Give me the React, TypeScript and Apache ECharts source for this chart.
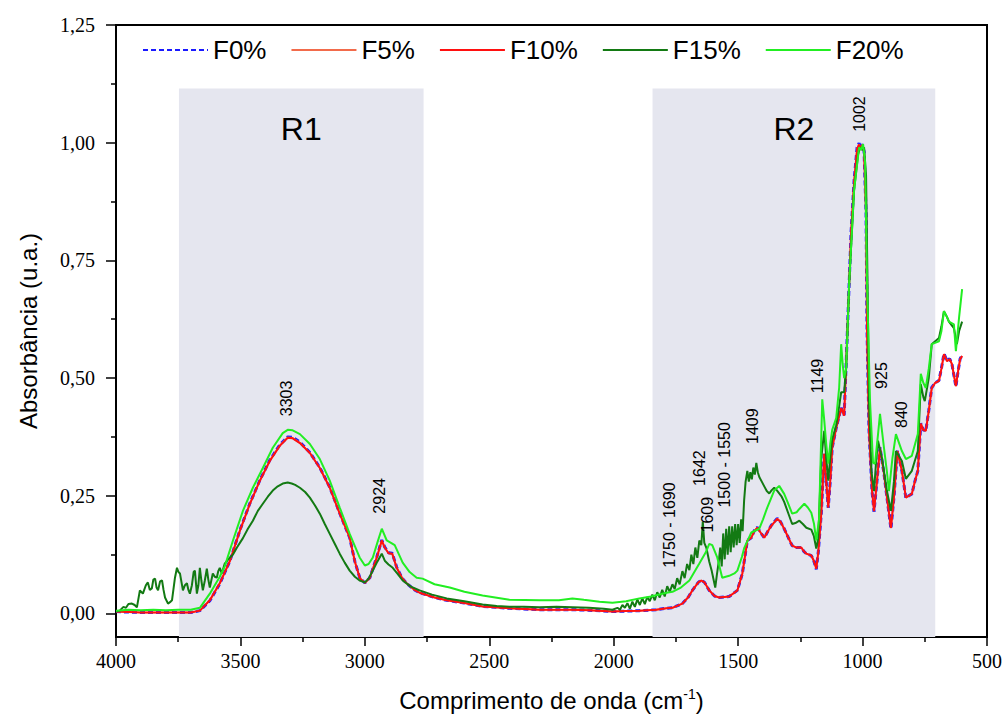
import React, { useEffect, useRef } from 'react';
import * as echarts from 'echarts';

// ---- Data ----
const seriesNames = ['F0%', 'F5%', 'F10%', 'F15%', 'F20%'];

// shared wavenumber grid for F0%, F5%, F10%
const baseWn = [
  4000, 3950, 3900, 3850, 3800, 3750, 3700, 3663, 3623, 3583, 3542, 3502, 3462, 3422, 3382, 3342, 3310, 3290,
  3261, 3221, 3181, 3141, 3101, 3061, 3040, 3020, 3000, 2980, 2952, 2932, 2920, 2905, 2890, 2872, 2850, 2832,
  2800, 2780, 2720, 2671, 2600, 2527, 2419, 2298, 2166, 2100, 2005, 1950, 1897, 1830, 1788, 1764, 1724, 1700,
  1684, 1660, 1648, 1635, 1616, 1595, 1576, 1536, 1503, 1483, 1463, 1447, 1435, 1423, 1410, 1395, 1380, 1367,
  1343, 1330, 1315, 1300, 1283, 1265, 1246, 1236, 1226, 1206, 1196, 1186, 1178, 1166, 1154, 1146, 1138, 1130,
  1122, 1106, 1086, 1074, 1066, 1046, 1034, 1022, 1014, 1008, 1002, 994, 986, 982, 974, 962, 954, 942, 930,
  914, 902, 886, 874, 860, 842, 826, 814, 802, 790, 778, 766, 756, 746, 734, 722, 708, 693, 683, 673, 661,
  650, 641, 625, 616, 608, 600
];

const f10Abs = [
  0.004, 0.003, 0.002, 0.002, 0.002, 0.002, 0.002, 0.006, 0.028, 0.064, 0.112, 0.176, 0.233, 0.282, 0.324, 0.356, 0.373, 0.372,
  0.362, 0.341, 0.309, 0.267, 0.212, 0.161, 0.110, 0.075, 0.065, 0.076, 0.119, 0.155, 0.140, 0.128, 0.127, 0.097, 0.075, 0.064,
  0.050, 0.044, 0.034, 0.028, 0.022, 0.015, 0.011, 0.008, 0.008, 0.007, 0.004, 0.005, 0.006, 0.008, 0.011, 0.012, 0.021, 0.035,
  0.049, 0.066, 0.070, 0.066, 0.049, 0.037, 0.034, 0.036, 0.049, 0.085, 0.155, 0.161, 0.175, 0.182, 0.172, 0.161, 0.175, 0.186,
  0.201, 0.195, 0.180, 0.163, 0.144, 0.140, 0.140, 0.132, 0.127, 0.123, 0.112, 0.095, 0.130, 0.212, 0.339, 0.280, 0.225, 0.280,
  0.352, 0.394, 0.436, 0.420, 0.530, 0.810, 0.917, 0.987, 0.996, 0.985, 0.995, 0.981, 0.847, 0.600, 0.388, 0.261, 0.218, 0.282, 0.352,
  0.297, 0.246, 0.182, 0.246, 0.345, 0.303, 0.246, 0.250, 0.254, 0.280, 0.303, 0.403, 0.390, 0.388, 0.430, 0.479, 0.490, 0.494, 0.520, 0.551, 0.536,
  0.540, 0.530, 0.483, 0.515, 0.540, 0.547
];

const f0Abs = [
  0.004, 0.003, 0.002, 0.002, 0.002, 0.002, 0.002, 0.006, 0.027, 0.063, 0.112, 0.177, 0.234, 0.283, 0.326, 0.358, 0.375, 0.374,
  0.364, 0.342, 0.310, 0.268, 0.213, 0.161, 0.110, 0.075, 0.065, 0.076, 0.120, 0.156, 0.141, 0.129, 0.128, 0.098, 0.075, 0.064,
  0.050, 0.044, 0.034, 0.028, 0.022, 0.015, 0.011, 0.008, 0.008, 0.007, 0.004, 0.005, 0.006, 0.008, 0.011, 0.012, 0.021, 0.035,
  0.049, 0.066, 0.071, 0.066, 0.049, 0.037, 0.034, 0.036, 0.049, 0.085, 0.155, 0.161, 0.176, 0.183, 0.172, 0.161, 0.175, 0.187,
  0.202, 0.195, 0.180, 0.163, 0.144, 0.140, 0.140, 0.132, 0.127, 0.123, 0.112, 0.094, 0.130, 0.212, 0.339, 0.280, 0.224, 0.280,
  0.352, 0.394, 0.437, 0.421, 0.530, 0.812, 0.920, 0.990, 0.999, 0.988, 0.997, 0.982, 0.850, 0.600, 0.388, 0.260, 0.216, 0.282, 0.353,
  0.297, 0.246, 0.180, 0.246, 0.346, 0.303, 0.245, 0.250, 0.254, 0.280, 0.303, 0.404, 0.390, 0.388, 0.431, 0.480, 0.490, 0.495, 0.521, 0.552, 0.537,
  0.541, 0.530, 0.482, 0.515, 0.541, 0.548
];

const f5Abs = [
  0.004, 0.003, 0.002, 0.002, 0.002, 0.002, 0.002, 0.006, 0.028, 0.064, 0.112, 0.176, 0.233, 0.282, 0.325, 0.357, 0.374, 0.373,
  0.363, 0.341, 0.309, 0.267, 0.212, 0.161, 0.110, 0.075, 0.065, 0.076, 0.119, 0.155, 0.140, 0.128, 0.127, 0.097, 0.075, 0.064,
  0.050, 0.044, 0.034, 0.028, 0.022, 0.015, 0.011, 0.008, 0.008, 0.007, 0.004, 0.005, 0.006, 0.008, 0.011, 0.012, 0.021, 0.035,
  0.049, 0.066, 0.070, 0.066, 0.049, 0.037, 0.034, 0.036, 0.049, 0.085, 0.155, 0.161, 0.175, 0.182, 0.172, 0.161, 0.175, 0.186,
  0.201, 0.195, 0.180, 0.163, 0.144, 0.140, 0.140, 0.132, 0.127, 0.123, 0.112, 0.095, 0.130, 0.212, 0.339, 0.280, 0.225, 0.280,
  0.352, 0.394, 0.436, 0.420, 0.530, 0.810, 0.918, 0.988, 0.997, 0.986, 0.996, 0.981, 0.848, 0.600, 0.388, 0.261, 0.217, 0.282, 0.352,
  0.297, 0.246, 0.181, 0.246, 0.345, 0.303, 0.246, 0.250, 0.254, 0.280, 0.303, 0.403, 0.390, 0.388, 0.430, 0.479, 0.490, 0.494, 0.520, 0.551, 0.536,
  0.540, 0.530, 0.483, 0.515, 0.540, 0.547
];

const f15Wn = [
  4000, 3985, 3970, 3960, 3950, 3936, 3925, 3916, 3904, 3892, 3880, 3872, 3864, 3856, 3850, 3843, 3837, 3831, 3823, 3815,
  3809, 3803, 3791, 3783, 3775, 3763, 3755, 3749, 3743, 3731, 3723, 3715, 3709, 3703, 3695, 3688, 3683, 3675, 3669, 3663,
  3657, 3651, 3643, 3635, 3629, 3623, 3617, 3611, 3603, 3595, 3589, 3583, 3575, 3563, 3553, 3542, 3530, 3514, 3490, 3470,
  3450, 3430, 3410, 3390, 3370, 3350, 3330, 3310, 3294, 3280, 3261, 3240, 3221, 3201, 3181, 3161, 3141, 3121, 3101, 3081,
  3061, 3040, 3021, 3000, 2985, 2968, 2950, 2932, 2920, 2905, 2888, 2870, 2848, 2815, 2780, 2730, 2671, 2600, 2527, 2470,
  2419, 2360, 2298, 2230, 2166, 2100, 2040, 2005, 1985, 1975, 1965, 1955, 1945, 1935, 1925, 1915, 1905, 1895, 1885, 1875,
  1865, 1855, 1845, 1835, 1825, 1815, 1805, 1795, 1785, 1775, 1764, 1755, 1745, 1735, 1724, 1715, 1705, 1696, 1688, 1680,
  1672, 1664, 1656, 1648, 1642, 1636, 1628, 1616, 1606, 1598, 1592, 1586, 1578, 1572, 1566, 1560, 1554, 1548, 1542, 1536,
  1530, 1524, 1518, 1512, 1506, 1500, 1494, 1488, 1482, 1476, 1470, 1463, 1457, 1451, 1445, 1439, 1433, 1427, 1421, 1415,
  1405, 1395, 1385, 1375, 1365, 1355, 1345, 1335, 1325, 1315, 1300, 1283, 1270, 1254, 1240, 1226, 1206, 1196, 1186, 1178,
  1166, 1154, 1146, 1138, 1130, 1122, 1106, 1094, 1086, 1074, 1066, 1054, 1034, 1018, 1010, 1002, 994, 986, 980, 974,
  964, 954, 946, 938, 922, 902, 886, 874, 866, 842, 826, 802, 778, 766, 756, 750, 734, 722, 693, 683,
  673, 661, 653, 633, 621, 612, 600
];

const f15Abs = [
  0.004, 0.006, 0.014, 0.012, 0.020, 0.021, 0.018, 0.013, 0.049, 0.042, 0.060, 0.066, 0.050, 0.053, 0.072, 0.074, 0.055, 0.049, 0.068, 0.070,
  0.050, 0.034, 0.021, 0.024, 0.028, 0.076, 0.097, 0.088, 0.085, 0.049, 0.060, 0.064, 0.050, 0.042, 0.060, 0.088, 0.091, 0.042, 0.060, 0.097,
  0.070, 0.049, 0.070, 0.095, 0.072, 0.055, 0.070, 0.085, 0.078, 0.076, 0.090, 0.097, 0.085, 0.106, 0.112, 0.119, 0.125, 0.140, 0.160, 0.180,
  0.197, 0.218, 0.233, 0.248, 0.261, 0.270, 0.276, 0.278, 0.276, 0.273, 0.267, 0.258, 0.246, 0.230, 0.212, 0.190, 0.169, 0.148, 0.127, 0.108,
  0.091, 0.078, 0.070, 0.066, 0.074, 0.091, 0.110, 0.127, 0.112, 0.104, 0.097, 0.085, 0.070, 0.057, 0.049, 0.040, 0.032, 0.026, 0.019, 0.016,
  0.014, 0.014, 0.013, 0.014, 0.013, 0.012, 0.010, 0.008, 0.012, 0.008, 0.018, 0.012, 0.022, 0.010, 0.025, 0.014, 0.030, 0.018, 0.032, 0.020,
  0.035, 0.026, 0.040, 0.028, 0.045, 0.034, 0.050, 0.036, 0.058, 0.046, 0.062, 0.052, 0.075, 0.062, 0.090, 0.075, 0.105, 0.092, 0.125, 0.105,
  0.140, 0.118, 0.155, 0.145, 0.195, 0.150, 0.140, 0.110, 0.090, 0.070, 0.055, 0.080, 0.110, 0.140, 0.100, 0.170, 0.115, 0.180, 0.125, 0.185,
  0.130, 0.185, 0.140, 0.190, 0.145, 0.190, 0.150, 0.200, 0.175, 0.240, 0.280, 0.303, 0.280, 0.300, 0.285, 0.310, 0.295, 0.320, 0.300, 0.290,
  0.280, 0.270, 0.260, 0.255, 0.262, 0.267, 0.262, 0.255, 0.248, 0.237, 0.215, 0.190, 0.192, 0.197, 0.190, 0.182, 0.178, 0.165, 0.138, 0.160,
  0.330, 0.388, 0.330, 0.282, 0.330, 0.370, 0.400, 0.440, 0.470, 0.470, 0.520, 0.700, 0.900, 0.975, 0.990, 0.985, 0.990, 0.930, 0.700, 0.450,
  0.300, 0.260, 0.320, 0.367, 0.330, 0.260, 0.218, 0.280, 0.345, 0.324, 0.286, 0.303, 0.345, 0.487, 0.460, 0.451, 0.500, 0.572, 0.585, 0.610,
  0.642, 0.630, 0.620, 0.606, 0.572, 0.600, 0.620
];

const f20Wn = [
  4000, 3950, 3900, 3850, 3800, 3750, 3700, 3663, 3623, 3583, 3563, 3530, 3490, 3450, 3410, 3370, 3330, 3310, 3290, 3261,
  3221, 3181, 3141, 3101, 3061, 3021, 3000, 2985, 2968, 2950, 2932, 2912, 2895, 2880, 2848, 2820, 2792, 2768, 2720, 2659,
  2600, 2527, 2419, 2298, 2220, 2166, 2120, 2057, 2005, 1950, 1897, 1850, 1788, 1764, 1730, 1696, 1656, 1630, 1616, 1604,
  1584, 1564, 1536, 1515, 1503, 1485, 1475, 1447, 1415, 1400, 1383, 1355, 1335, 1315, 1300, 1283, 1265, 1254, 1234, 1220,
  1206, 1195, 1186, 1175, 1162, 1154, 1146, 1138, 1130, 1122, 1106, 1094, 1086, 1080, 1074, 1066, 1054, 1034, 1014, 1006,
  998, 990, 982, 970, 958, 950, 938, 930, 914, 902, 894, 880, 866, 842, 826, 802, 778, 766, 756, 746,
  734, 722, 693, 683, 673, 661, 653, 633, 625, 612, 600
];

const f20Abs = [
  0.006, 0.008, 0.007, 0.008, 0.007, 0.008, 0.008, 0.012, 0.042, 0.078, 0.100, 0.155, 0.218, 0.267, 0.309, 0.352, 0.383, 0.390, 0.389, 0.381,
  0.360, 0.328, 0.282, 0.225, 0.169, 0.119, 0.102, 0.105, 0.119, 0.150, 0.180, 0.155, 0.150, 0.145, 0.108, 0.088, 0.076, 0.074, 0.062, 0.055,
  0.046, 0.038, 0.029, 0.028, 0.028, 0.032, 0.029, 0.025, 0.023, 0.026, 0.032, 0.036, 0.044, 0.046, 0.055, 0.070, 0.106, 0.130, 0.148, 0.145,
  0.119, 0.076, 0.080, 0.085, 0.091, 0.120, 0.140, 0.172, 0.180, 0.200, 0.225, 0.261, 0.271, 0.254, 0.235, 0.212, 0.215, 0.222, 0.233, 0.225,
  0.214, 0.190, 0.155, 0.200, 0.455, 0.410, 0.360, 0.318, 0.360, 0.390, 0.415, 0.480, 0.572, 0.530, 0.500, 0.520, 0.700, 0.900, 0.990, 0.985,
  0.997, 0.960, 0.700, 0.450, 0.320, 0.318, 0.380, 0.424, 0.352, 0.300, 0.260, 0.330, 0.381, 0.345, 0.328, 0.335, 0.381, 0.509, 0.490, 0.479,
  0.520, 0.572, 0.578, 0.600, 0.642, 0.630, 0.620, 0.614, 0.557, 0.630, 0.689
];

// shaded regions
const regionNames = ['R1', 'R2'];
const regionFrom = [3747, 1844];
const regionTo = [2764, 708];
const regionTop = 1.115;

// peak annotations: label, wavenumber of label centre, absorbance at label's lower end
const peakLabels = ['3303', '2924', '1750 - 1690', '1642', '1609', '1500 - 1550', '1409', '1149', '1002', '925', '840'];
const peakWn = [3314, 2940, 1776, 1656, 1624, 1556, 1443, 1182, 1014, 925, 845];
const peakAbs = [0.419, 0.212, 0.097, 0.271, 0.172, 0.225, 0.36, 0.468, 1.023, 0.477, 0.394];

// axes
const xMin = 500;
const xMax = 4000;
const xStep = 500;
const yMin = -0.05;
const yMax = 1.25;
const yMajor = [0, 0.25, 0.5, 0.75, 1.0, 1.25];
const yMinor = [0.125, 0.375, 0.625, 0.875, 1.125];

const zip = (w: number[], a: number[]) => w.map((x, i) => [x, a[i]]);

export default function App() {
  const ref = useRef<HTMLDivElement>(null);
  useEffect(() => {
    const chart = echarts.init(ref.current!, null, { renderer: 'svg' });
    const sans = 'Liberation Sans, Arial, sans-serif';
    const serif = 'Liberation Serif, Times New Roman, serif';
    const lineSeries = (name: string, data: number[][], color: string, width: number, z: number, dashed = false) => ({
      name,
      type: 'line',
      data,
      symbol: 'none',
      smooth: false,
      z,
      lineStyle: { color, width, type: dashed ? [5, 3] : 'solid' },
      itemStyle: { color },
    });
    const option: any = {
      animation: false,
      backgroundColor: '#fff',
      grid: { left: 116, right: 17, top: 25, bottom: 81, show: true, borderColor: '#000', borderWidth: 2, backgroundColor: 'transparent' },
      legend: {
        data: seriesNames,
        left: 137,
        top: 32,
        itemWidth: 65,
        itemHeight: 18,
        itemGap: 24,
        itemStyle: { opacity: 0 },
        textStyle: { fontSize: 26, fontFamily: sans, color: '#000' },
      },
      xAxis: {
        type: 'value',
        min: xMin,
        max: xMax,
        interval: xStep,
        inverse: true,
        name: 'Comprimento de onda (cm{sup|-1})',
        nameLocation: 'middle',
        nameGap: 50,
        nameTextStyle: {
          fontSize: 24,
          fontFamily: sans,
          color: '#000',
          rich: { sup: { fontSize: 14, fontFamily: sans, color: '#000', padding: [0, 0, 12, 0] } },
        },
        axisLine: { show: true, onZero: false, lineStyle: { color: '#000', width: 2 } },
        axisTick: { show: true, inside: false, length: 9, lineStyle: { color: '#000', width: 1.5 } },
        minorTick: { show: true, splitNumber: 2, length: 5, lineStyle: { color: '#000', width: 1.5 } },
        axisLabel: { fontSize: 20, fontFamily: serif, color: '#000', margin: 14, formatter: (v: number) => String(v) },
        splitLine: { show: false },
      },
      yAxis: [
        {
          type: 'value',
          min: yMin,
          max: yMax,
          position: 'left',
          name: 'Absorbância (u.a.)',
          nameLocation: 'middle',
          nameGap: 76,
          nameTextStyle: { fontSize: 24, fontFamily: sans, color: '#000' },
          axisLine: { show: true, onZero: false, lineStyle: { color: '#000', width: 2 } },
          axisTick: { show: true, inside: false, length: 10, customValues: yMajor, lineStyle: { color: '#000', width: 1.5 } },
          axisLabel: {
            fontSize: 20,
            fontFamily: serif,
            color: '#000',
            margin: 21,
            customValues: yMajor,
            formatter: (v: number) => v.toFixed(2).replace('.', ','),
          },
          splitLine: { show: false },
        },
        {
          type: 'value',
          min: yMin,
          max: yMax,
          position: 'left',
          offset: 0,
          axisLine: { show: false },
          axisTick: { show: true, inside: false, length: 5, customValues: yMinor, lineStyle: { color: '#000', width: 1.5 } },
          axisLabel: { show: false },
          splitLine: { show: false },
        },
      ],
      series: [
        {
          name: 'regions',
          type: 'line',
          data: [],
          z: 1,
          silent: true,
          markArea: {
            silent: true,
            itemStyle: { color: '#e5e6ef' },
            label: { show: true, position: 'insideTop', distance: 24, fontSize: 32, fontFamily: sans, color: '#000' },
            data: regionNames.map((n, i) => [
              { name: n, xAxis: regionFrom[i], yAxis: regionTop },
              { xAxis: regionTo[i], yAxis: yMin },
            ]),
          },
        },
        lineSeries('F0%', zip(baseWn, f0Abs), '#1a1aff', 3, 2, true),
        lineSeries('F5%', zip(baseWn, f5Abs), '#f26b4b', 1.5, 3),
        lineSeries('F10%', zip(baseWn, f10Abs), '#ff1010', 2, 4),
        lineSeries('F15%', zip(f15Wn, f15Abs), '#137a13', 2, 5),
        lineSeries('F20%', zip(f20Wn, f20Abs), '#22ee22', 2, 6),
      ],
    };
    chart.setOption(option);
    const graphics = peakLabels.map((t, i) => {
      const p = chart.convertToPixel({ xAxisIndex: 0, yAxisIndex: 0 }, [peakWn[i], peakAbs[i]]) as number[];
      return {
        type: 'text',
        x: p[0],
        y: p[1],
        rotation: Math.PI / 2,
        z: 10,
        style: { text: t, fontSize: 16, fontFamily: sans, fill: '#000', align: 'left', verticalAlign: 'middle' },
      };
    });
    chart.setOption({ graphic: graphics });
    return () => chart.dispose();
  }, []);
  return <div ref={ref} style={{ position: 'absolute', left: 0, top: 0, width: 1005, height: 718 }} />;
}
